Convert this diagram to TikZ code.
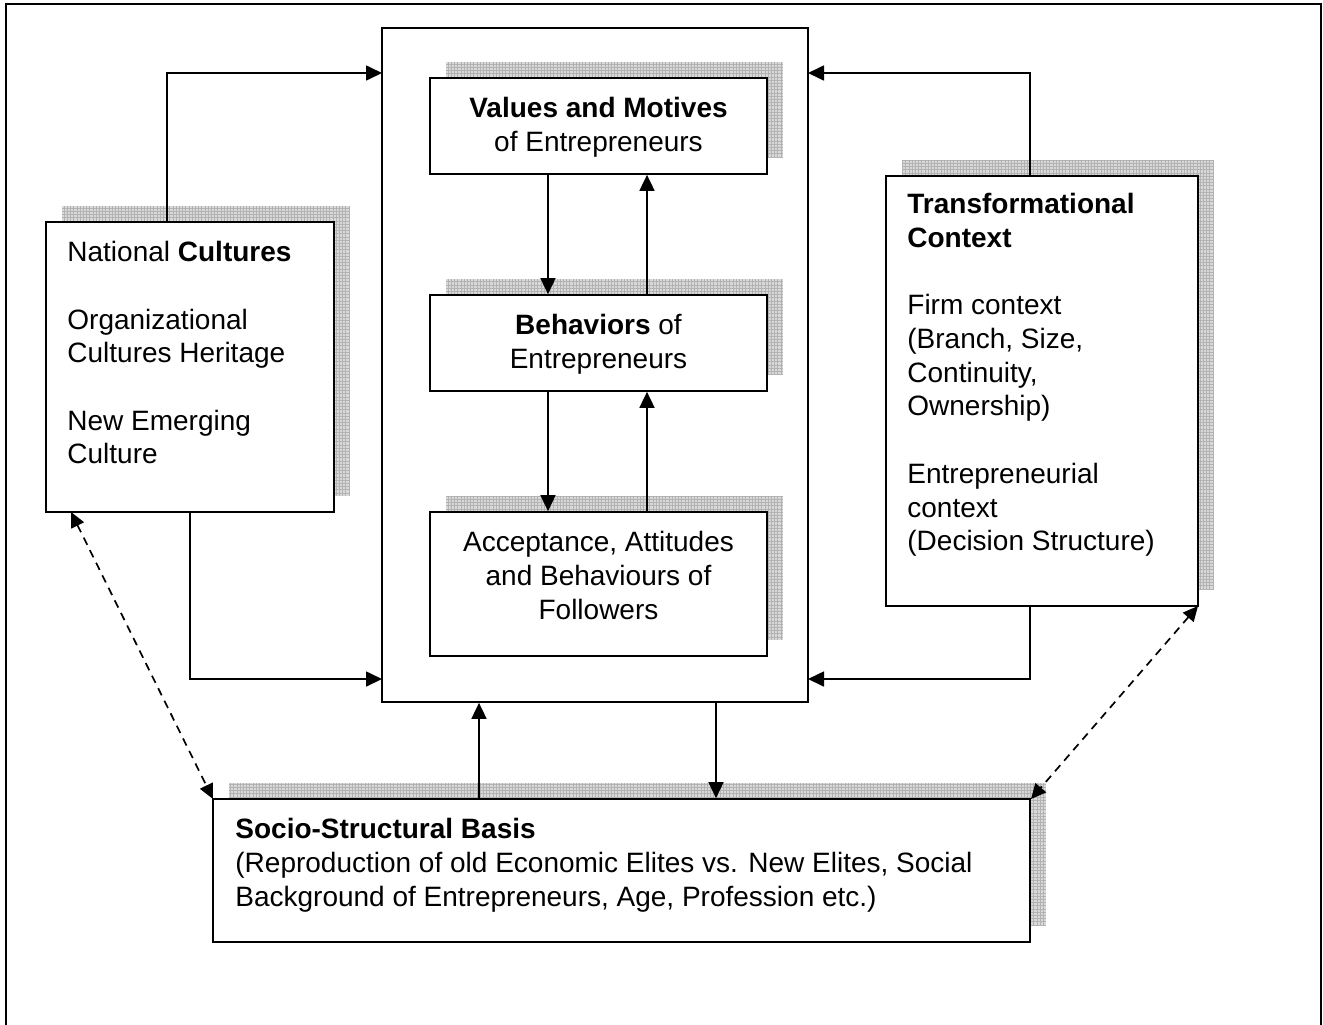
\documentclass[tikz,border=0pt]{standalone}
\usepackage{fontspec}
\setmainfont{Liberation Sans}
\usetikzlibrary{arrows.meta}
\tikzset{
  box/.style={draw, line width=0.85pt, fill=white, inner sep=0pt, rectangle},
  shadowfill/.style={fill=gray!30},
  shadowgrid/.style={draw=gray!60, line width=0.2pt, step=1.6pt},
  txt/.style={inner sep=0pt, font=\fontsize{14}{16.85}\selectfont},
  conn/.style={line width=0.85pt, -{Triangle[length=8pt,width=7.5pt]}},
  dconn/.style={line width=0.85pt, dash pattern=on 4pt off 3pt, {Triangle[length=7.5pt,width=7pt]}-{Triangle[length=7.5pt,width=7pt]}}
}
\newcommand\myshadow[4]{%
  \fill[shadowfill] (#1,#2) rectangle (#3,#4);
  \begin{scope}
    \clip (#1,#2) rectangle (#3,#4);
    \draw[shadowgrid] (#1,#2) grid (#3,#4);
  \end{scope}}
\begin{document}
\begin{tikzpicture}[x=0.5pt,y=-0.5pt]
\useasboundingbox (0,0) rectangle (1323,1024);
\begin{scope}
\clip (0,0) rectangle (1323,1024);
\draw[line width=1pt] (6,1040) -- (6,4) -- (1321,4) -- (1321,1040);
\end{scope}

% shadows
\myshadow{446}{62}{783}{158}
\myshadow{446}{279}{783}{375}
\myshadow{446}{496}{783}{640}
\myshadow{62}{206}{350}{496}
\myshadow{902}{160}{1214}{590}
\myshadow{229}{783}{1046}{926}

% central frame
\node[box, fill=none, minimum width=426pt*0.5, minimum height=674pt*0.5] (central) at (595,365) {};

% boxes
\node[box, minimum width=337*0.5pt, minimum height=96*0.5pt] (values) at (598.5,126) {};
\node[box, minimum width=337*0.5pt, minimum height=96*0.5pt] (behav) at (598.5,343) {};
\node[box, minimum width=337*0.5pt, minimum height=144*0.5pt] (accept) at (598.5,584) {};
\node[box, minimum width=288*0.5pt, minimum height=290*0.5pt] (national) at (190,367) {};
\node[box, minimum width=312*0.5pt, minimum height=430*0.5pt] (transf) at (1042,391) {};
\node[box, minimum width=817*0.5pt, minimum height=143*0.5pt] (socio) at (621.5,870.5) {};

% texts
\node[txt, anchor=north, align=center] (valuesT) at (598.5,97) {\textbf{Values and Motives}\\of Entrepreneurs};
\node[txt, anchor=north, align=center] (behavT) at (598.5,314) {\textbf{Behaviors} of\\Entrepreneurs};
\node[txt, anchor=north, align=center] (acceptT) at (598.5,531) {Acceptance, Attitudes\\and Behaviours of\\Followers};
\node[txt, anchor=north west, align=left] (nationalT) at (67,241) {National \textbf{Cultures}\\[16.85pt]Organizational\\Cultures Heritage\\[16.85pt]New Emerging\\Culture};
\node[txt, anchor=north west, align=left] (transfT) at (907,193) {\textbf{Transformational}\\\textbf{Context}\\[16.85pt]Firm context\\(Branch, Size,\\Continuity,\\Ownership)\\[16.85pt]Entrepreneurial\\context\\(Decision Structure)};
\node[txt, anchor=north west, align=left] (socioT) at (235,818) {\textbf{Socio-Structural Basis}\\(Reproduction of old Economic Elites vs. New Elites, Social\\Background of Entrepreneurs, Age, Profession etc.)};

% coordinates
\coordinate (nTop) at (167,222);
\coordinate (nBot) at (190,512);
\coordinate (tTop) at (1030,176);
\coordinate (tBot) at (1030,606);
\coordinate (cL1) at (382,73);
\coordinate (cL2) at (382,679);
\coordinate (cR1) at (808,73);
\coordinate (cR2) at (808,679);

% connectors
\draw[conn] (nTop) |- (cL1);
\draw[conn] (nBot) |- (cL2);
\draw[conn] (tTop) |- (cR1);
\draw[conn] (tBot) |- (cR2);

\draw[conn] (values.south -| 548,0) -- (behav.north -| 548,0);
\draw[conn] (behav.north -| 647,0) -- (values.south -| 647,0);
\draw[conn] (behav.south -| 548,0) -- (accept.north -| 548,0);
\draw[conn] (accept.north -| 647,0) -- (behav.south -| 647,0);

\draw[conn] (socio.north -| 479,0) -- (central.south -| 479,0);
\draw[conn] (central.south -| 716,0) -- (socio.north -| 716,0);

\coordinate (dL1) at (71,512);
\coordinate (dL2) at (213,799);
\coordinate (dR1) at (1198,606);
\coordinate (dR2) at (1031,799);
\draw[dconn] (dL1) -- (dL2);
\draw[dconn] (dR1) -- (dR2);
\end{tikzpicture}
\end{document}
